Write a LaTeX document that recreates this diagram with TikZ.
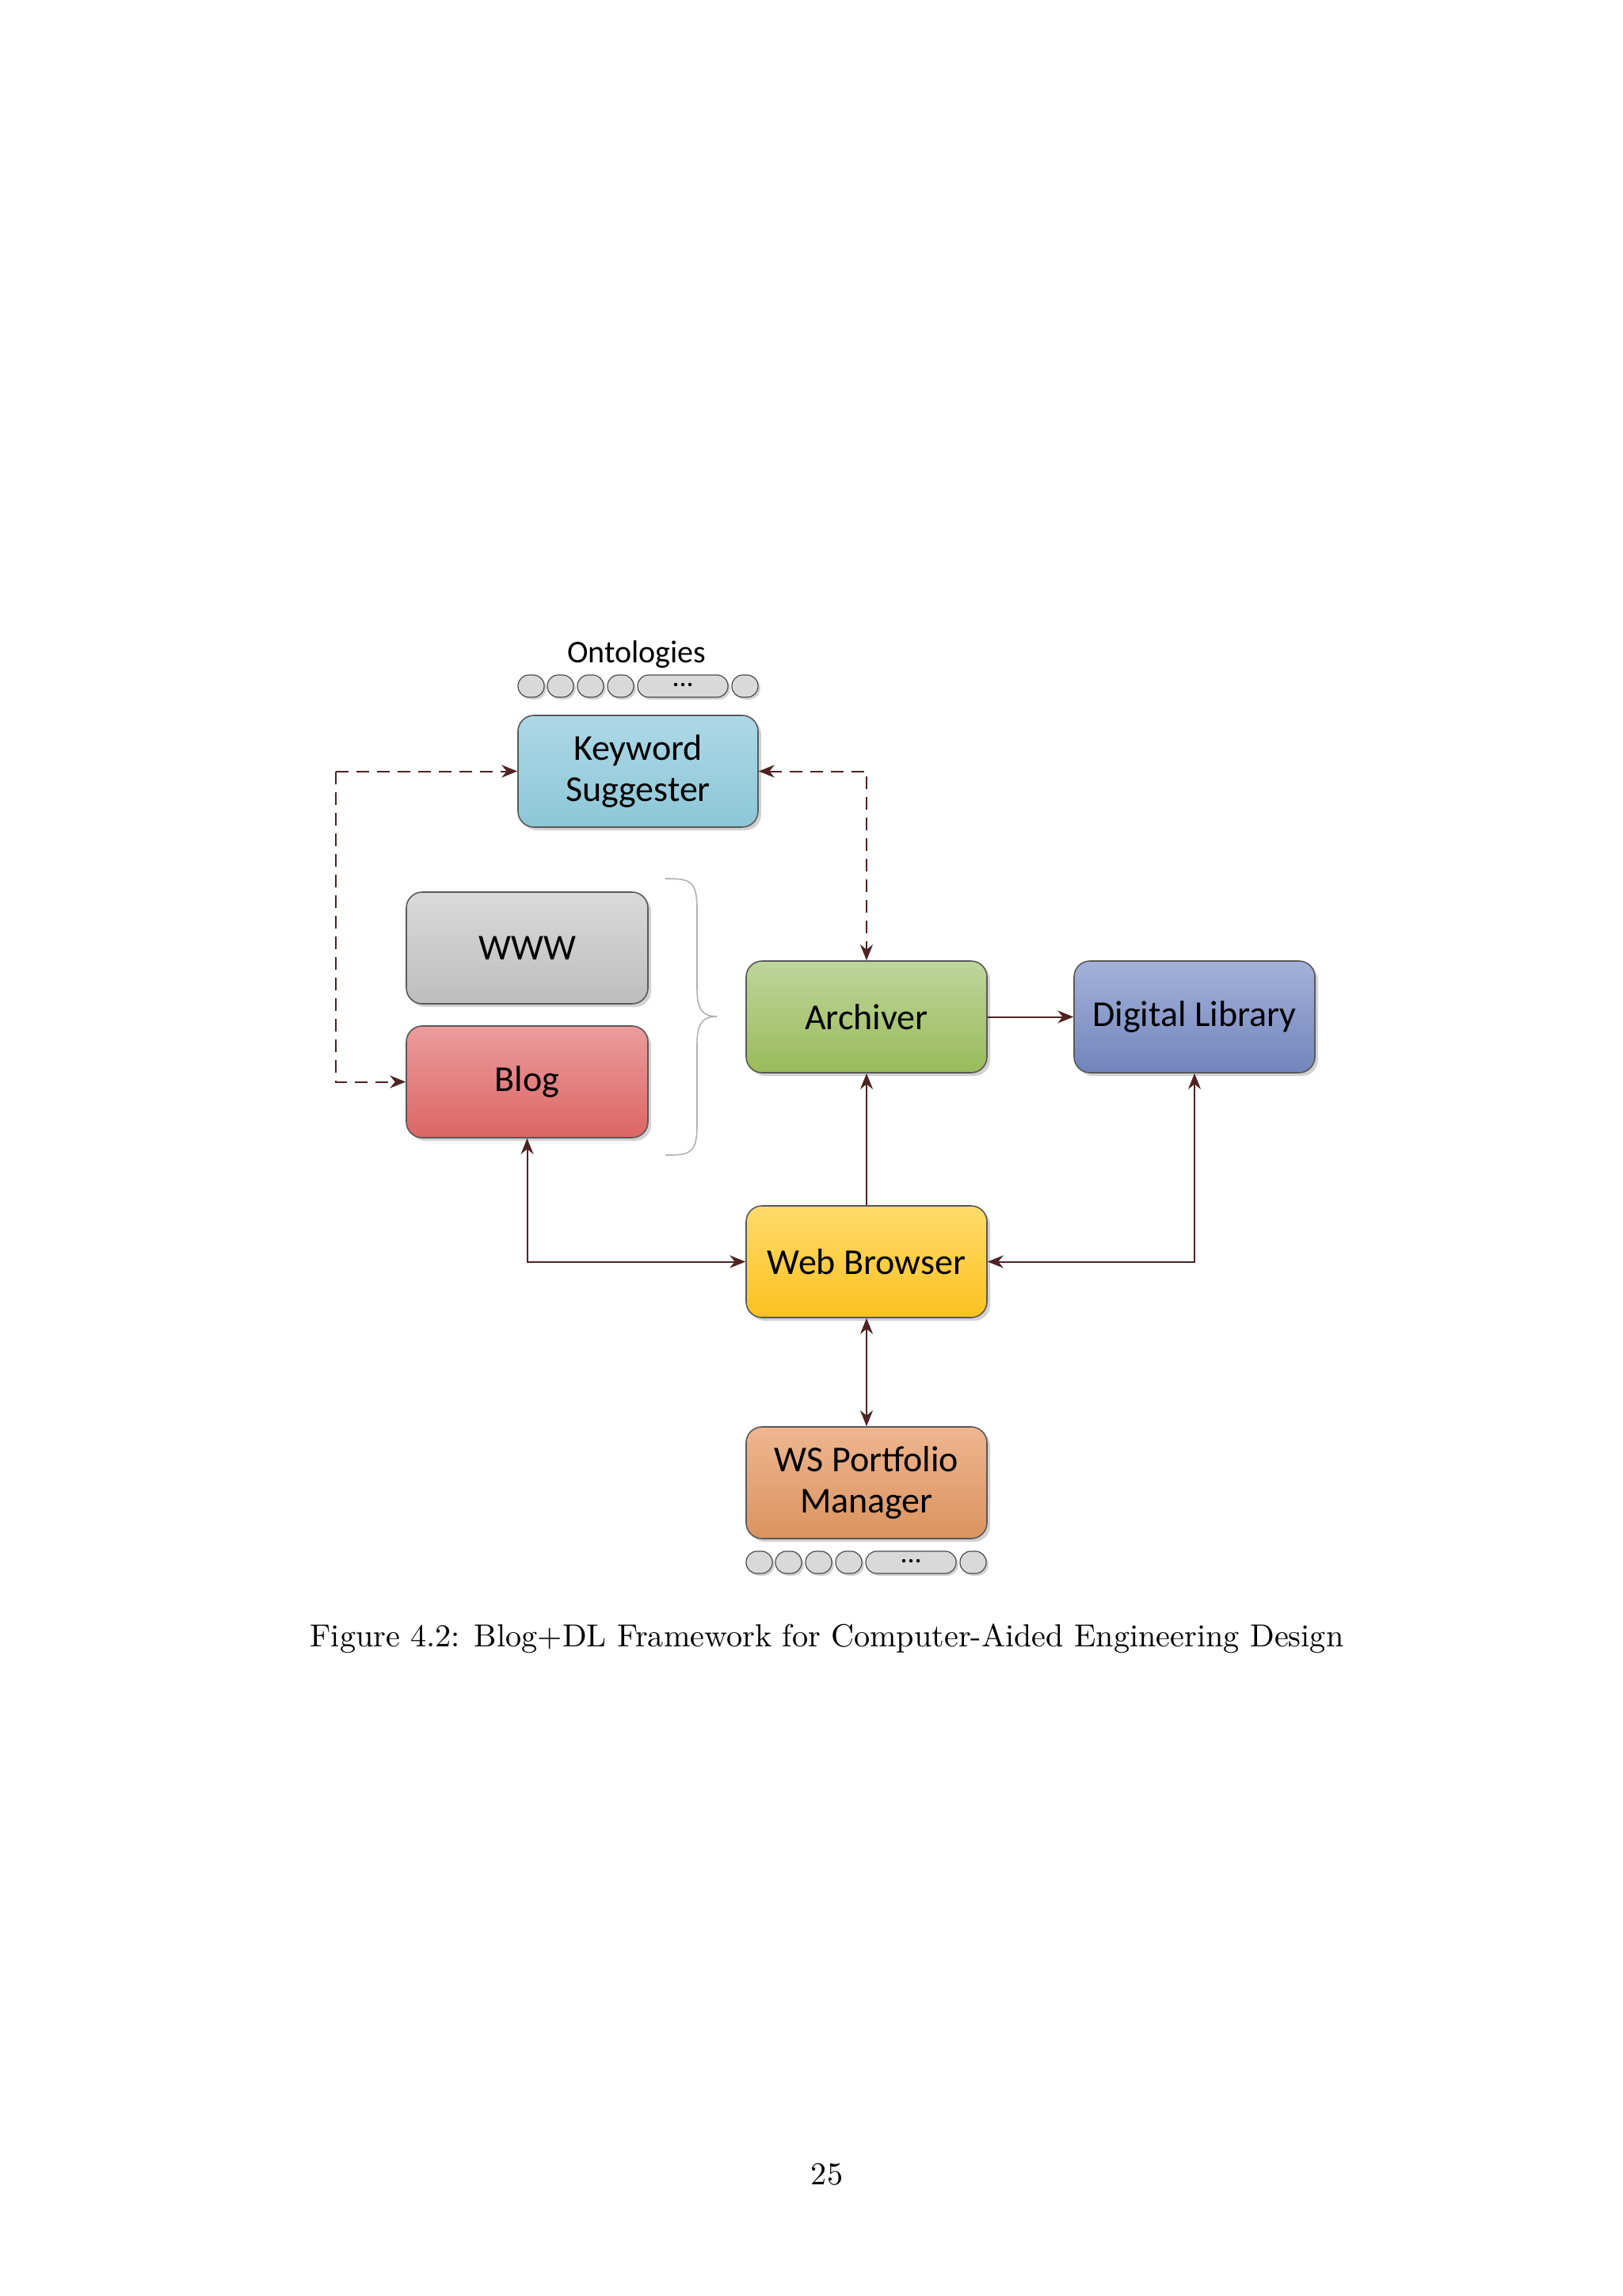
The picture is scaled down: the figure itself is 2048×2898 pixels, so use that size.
\documentclass[tikz,border=0pt]{standalone}
\usepackage{fontspec}
\setmainfont{Carlito}
\newfontfamily\lmfont{Latin Modern Roman}
\usetikzlibrary{shadows,arrows.meta,calc}
\definecolor{arr}{HTML}{4F2323}
\definecolor{ksA}{HTML}{ADD8E6}\definecolor{ksB}{HTML}{8CC7D7}
\definecolor{wwA}{HTML}{DADADA}\definecolor{wwB}{HTML}{BDBDBD}
\definecolor{blA}{HTML}{EB9C9C}\definecolor{blB}{HTML}{DC6565}
\definecolor{arA}{HTML}{BDD69B}\definecolor{arB}{HTML}{9ABB5A}
\definecolor{dlA}{HTML}{A4B2D9}\definecolor{dlB}{HTML}{7185BD}
\definecolor{wbA}{HTML}{FFDB6C}\definecolor{wbB}{HTML}{FBC11E}
\definecolor{wsA}{HTML}{EEB690}\definecolor{wsB}{HTML}{DA935F}
\tikzset{
 box/.style={draw=gray!70!black,line width=0.4pt,rounded corners=5pt,drop shadow={shadow xshift=1pt,shadow yshift=-1pt,opacity=0.35}},
 lbl/.style={font=\fontsize{11.5}{13}\selectfont,align=center},
 pill/.style={draw=gray!60!black,line width=0.3pt,fill=gray!30,rounded corners=3.4pt,drop shadow={shadow xshift=0.7pt,shadow yshift=-0.7pt,opacity=0.35}},
 conn/.style={draw=arr,line width=0.5pt,-{Stealth[length=5pt,width=4pt]}},
 dconn/.style={conn,dash pattern=on 4pt off 2.5pt},
 bconn/.style={draw=arr,line width=0.5pt,{Stealth[length=5pt,width=4pt]}-{Stealth[length=5pt,width=4pt]}},
 dbconn/.style={bconn,dash pattern=on 4pt off 2.5pt}
}
\newcommand{\bx}[7]{\path[box,top color=#5,bottom color=#6] (#1,#2) rectangle (#3,#4);
 \node[inner sep=0pt,minimum width={(#3-#1)*0.25pt},minimum height={(#4-#2)*0.25pt}] (#7) at ({(#1+#3)/2},{(#2+#4)/2}) {};}
\newcommand{\pills}[2]{%
 \foreach \a/\b in {0/33,37/70,75/108,113/146,270/303}{\path[pill] (#1+\a,#2) rectangle (#1+\b,#2+28);}
 \path[pill] (#1+151,#2) rectangle (#1+265,#2+28);
 \foreach \d in {-9,0,9}{\fill (#1+208+\d,#2+12) circle (2.2);}}
\begin{document}
\begin{tikzpicture}[x=0.25pt,y=-0.25pt]
\path[use as bounding box,fill=white] (0,0) rectangle (2048,2898);
\begin{scope}[xshift=-1pt]
\node[font=\fontsize{10}{12}\selectfont] (ont) at (808,826) {Ontologies};
\pills{658}{852}
\pills{946}{1958}
\bx{658}{903}{961}{1044}{ksA}{ksB}{ks}
\node[lbl] at (ks) {Keyword\\Suggester};
\bx{517}{1126}{822}{1267}{wwA}{wwB}{www}
\node[lbl] at (www) {WWW};
\bx{517}{1295}{822}{1436}{blA}{blB}{blog}
\node[lbl] at (blog) {Blog};
\bx{946}{1213}{1250}{1354}{arA}{arB}{arch}
\node[lbl] at (arch) {Archiver};
\bx{1360}{1213}{1664}{1354}{dlA}{dlB}{dl}
\node[lbl] at (dl) {Digital Library};
\bx{946}{1522}{1250}{1663}{wbA}{wbB}{wb}
\node[lbl] at (wb) {Web Browser};
\bx{946}{1801}{1250}{1942}{wsA}{wsB}{ws}
\node[lbl] at (ws) {WS Portfolio\\Manager};
% brace
\draw[gray!60,line width=0.4pt] (844,1109) .. controls (875,1109) and (884,1111) .. (884,1148) -- (884,1248) .. controls (884,1273) and (890,1283) .. (909,1283) .. controls (890,1283) and (884,1293) .. (884,1318) -- (884,1420) .. controls (884,1456) and (875,1458) .. (844,1458);
% connectors
\coordinate (l1) at (428,973.5);
\draw[dconn] (l1) -- (ks.west);
\draw[dconn] (l1) |- (blog.west);
\draw[dbconn] (ks.east) -| (arch.north);
\draw[conn] (arch.east) -- (dl.west);
\draw[conn] (wb.north) -- (arch.south);
\draw[bconn] (blog.south) |- (wb.west);
\draw[bconn] (dl.south) |- (wb.east);
\draw[bconn] (wb.south) -- (ws.north);
\end{scope}
\node[font=\lmfont\fontsize{10.05}{12}\selectfont] (cap) at (1044,2068) {Figure 4.2: Blog+DL Framework for Computer-Aided Engineering Design};
\node[font=\lmfont\fontsize{10.05}{12}\selectfont] (pg) at (1044,2745) {25};
\end{tikzpicture}
\end{document}
